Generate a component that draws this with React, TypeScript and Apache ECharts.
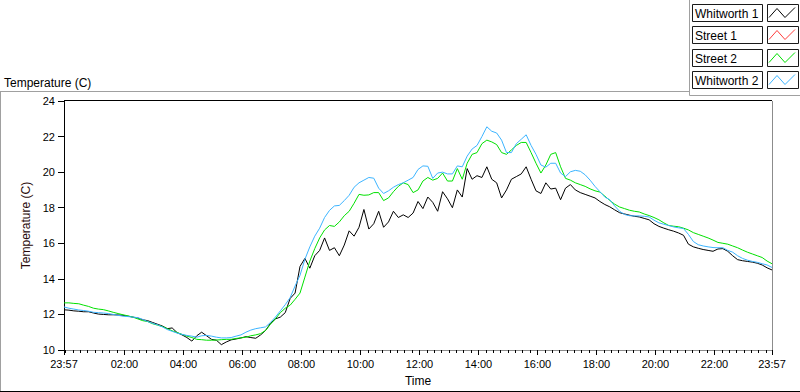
import React, { useEffect, useRef } from "react";
import * as echarts from "echarts";

// ---- data -------------------------------------------------------------
const SERIES_NAMES = ["Whitworth 1", "Street 1", "Street 2", "Whitworth 2"];
const SERIES_COLORS = ["#000000", "#ff3c3c", "#00e000", "#3cb4ff"];

const START_CLOCK_MIN = 23 * 60 + 57; // chart starts at 23:57
const SAMPLE_STEP_MIN = 10; // readings every 10 minutes
const SPAN_MIN = 1440;

const TICK_LABELS = [
  "23:57", "02:00", "04:00", "06:00", "08:00", "10:00", "12:00",
  "14:00", "16:00", "18:00", "20:00", "22:00", "23:57",
];
const Y_MIN = 10;
const Y_MAX = 24;
const Y_STEP = 2;

const whitworth1 = [
  12.26, 12.24, 12.2, 12.18, 12.15, 12.15, 12.08, 12.02, 12.0, 11.98,
  11.98, 11.97, 11.95, 11.9, 11.85, 11.8, 11.7, 11.65, 11.55, 11.45,
  11.35, 11.2, 11.24, 10.98, 10.85, 10.7, 10.5, 10.8, 11.0, 10.8,
  10.6, 10.55, 10.3, 10.45, 10.57, 10.62, 10.68, 10.75, 10.7, 10.66,
  10.85, 11.1, 11.5, 11.75, 11.85, 12.1, 12.9, 13.2, 14.7, 15.15,
  14.6, 15.3, 15.6, 16.3, 15.6, 15.75, 15.3, 15.9, 16.7, 16.4,
  16.9, 17.9, 16.8, 17.1, 17.8, 16.9, 17.2, 17.8, 17.45, 17.6,
  17.45, 17.7, 18.35, 17.95, 18.6, 18.3, 17.8, 18.9, 18.5, 18.0,
  19.0, 18.6, 20.2, 19.6, 19.8, 19.7, 20.3, 19.6, 19.4, 18.55,
  19.0, 19.6, 19.75, 19.9, 20.3, 19.6, 18.95, 18.8, 19.4, 19.05,
  19.1, 18.45, 19.1, 19.3, 19.0, 18.85, 18.75, 18.65, 18.55, 18.35,
  18.18, 18.05, 17.88, 17.72, 17.65, 17.58, 17.52, 17.48, 17.4, 17.32,
  17.1, 16.95, 16.85, 16.76, 16.68, 16.58, 16.45, 15.95, 15.8, 15.72,
  15.65, 15.6, 15.55, 15.68, 15.7, 15.55, 15.3, 15.08, 15.02, 14.98,
  14.94, 14.88, 14.78, 14.62, 14.5,
];

const street1: number[] = [];

const street2 = [
  12.65, 12.65, 12.62, 12.6, 12.52, 12.45, 12.35, 12.3, 12.27, 12.2,
  12.12, 12.05, 11.98, 11.92, 11.85, 11.75, 11.65, 11.6, 11.48, 11.4,
  11.32, 11.2, 11.08, 10.98, 10.88, 10.78, 10.7, 10.6, 10.58, 10.55,
  10.55, 10.56, 10.58, 10.6, 10.6, 10.65, 10.68, 10.72, 10.8, 10.85,
  10.92, 11.1, 11.45, 11.75, 12.1, 12.35, 12.52, 12.85, 13.2, 14.1,
  15.0, 15.7, 16.3, 16.75, 17.0, 16.95, 17.2, 17.55, 17.8, 18.25,
  18.75, 18.7, 18.72, 18.85, 18.85, 18.4, 18.55, 18.9, 19.2, 19.4,
  19.3, 18.85, 19.0, 19.5, 19.7, 19.55, 19.65, 19.95, 19.5, 19.5,
  20.2, 19.6, 20.5, 21.0, 21.1, 21.6, 21.8, 21.7, 21.55, 21.1,
  21.0, 21.25, 21.5, 21.67, 21.67, 21.1, 20.5, 19.95, 20.4, 21.0,
  21.1, 20.3, 19.65, 19.55, 19.4, 19.3, 19.2, 19.06, 18.95, 18.88,
  18.65, 18.41, 18.2, 18.04, 17.95, 17.86, 17.8, 17.76, 17.65, 17.56,
  17.45, 17.32, 17.15, 17.0, 16.96, 16.93, 16.85, 16.75, 16.6, 16.5,
  16.4, 16.3, 16.18, 16.05, 16.0, 15.95, 15.85, 15.75, 15.62, 15.5,
  15.4, 15.3, 15.2, 15.0, 14.85,
];

const whitworth2 = [
  12.42, 12.35, 12.3, 12.25, 12.22, 12.18, 12.12, 12.1, 12.08, 12.05,
  12.0, 11.95, 11.9, 11.88, 11.85, 11.82, 11.72, 11.6, 11.5, 11.42,
  11.3, 11.15, 11.05, 10.95, 10.88, 10.82, 10.78, 10.72, 10.8, 10.82,
  10.78, 10.72, 10.68, 10.68, 10.7, 10.78, 10.85, 11.0, 11.12, 11.2,
  11.25, 11.3, 11.55, 11.85, 12.2, 12.55, 12.95, 13.6, 14.2, 15.1,
  15.8, 16.4, 16.85, 17.45, 17.85, 18.1, 18.13, 18.4, 18.7, 19.15,
  19.4, 19.55, 19.7, 19.66, 19.1, 18.8, 18.95, 19.15, 19.3, 19.4,
  19.55, 19.7, 20.15, 20.35, 20.33, 19.65, 19.95, 20.0, 19.9, 19.9,
  20.35, 20.3, 20.9, 21.3, 21.5, 22.0, 22.55, 22.3, 22.2, 21.8,
  21.1, 21.1, 21.6, 21.85, 22.1, 21.5, 21.0, 20.4, 20.28, 20.5,
  20.5, 19.95, 19.75, 20.02, 20.1, 20.05, 19.85, 19.55, 19.2, 18.9,
  18.6, 18.45, 18.1, 17.8, 17.62, 17.55, 17.54, 17.54, 17.52, 17.48,
  17.3, 17.15, 17.07, 17.0, 16.92, 16.87, 16.83, 16.5, 16.1, 15.92,
  15.85, 15.8, 15.76, 15.75, 15.75, 15.6, 15.5, 15.3, 15.15, 15.05,
  14.98, 14.93, 14.85, 14.78, 14.64,
];

const SERIES_VALUES = [whitworth1, street1, street2, whitworth2];

// ---- helpers ------------------------------------------------------------
const FONT = '"Liberation Sans", Arial, sans-serif';

function labelToOffset(label: string, idx: number): number {
  if (idx === TICK_LABELS.length - 1) return SPAN_MIN;
  const [h, m] = label.split(":").map(Number);
  return (h * 60 + m - START_CLOCK_MIN + SPAN_MIN) % SPAN_MIN;
}
const MAJOR_TICKS = TICK_LABELS.map((l, i) => labelToOffset(l, i));
const MINOR_TICKS: number[] = [];
for (let t = (SPAN_MIN - START_CLOCK_MIN) % 15; t <= SPAN_MIN; t += 15) MINOR_TICKS.push(t);

function fmtOffset(v: number): string {
  const idx = MAJOR_TICKS.indexOf(Math.round(v));
  if (idx >= 0) return TICK_LABELS[idx];
  const total = (START_CLOCK_MIN + Math.round(v)) % SPAN_MIN;
  const h = Math.floor(total / 60);
  const m = total % 60;
  return `${String(h).padStart(2, "0")}:${String(m).padStart(2, "0")}`;
}

function toPairs(values: number[]): [number, number][] {
  return values.map((v, i) => [i * SAMPLE_STEP_MIN, v]);
}

// ---- legend graphic -----------------------------------------------------
function legendGraphic(): any[] {
  const els: any[] = [];
  // panel edges
  els.push({ type: "line", silent: true, shape: { x1: 689.5, y1: 0, x2: 689.5, y2: 95.5 }, style: { stroke: "#a0a0a0", lineWidth: 1 } });
  els.push({ type: "line", silent: true, shape: { x1: 689.5, y1: 95.5, x2: 800, y2: 95.5 }, style: { stroke: "#a0a0a0", lineWidth: 1 } });
  SERIES_NAMES.forEach((name, i) => {
    const top = 4.5 + Math.round(i * 22.3);
    els.push({
      type: "rect", silent: true,
      shape: { x: 692.5, y: top, width: 70, height: 17 },
      style: { fill: "#ffffff", stroke: "#1a1a1a", lineWidth: 1 },
    });
    els.push({
      type: "text", silent: true, x: 695, y: top + 9,
      style: { text: name, fontSize: 12, fontFamily: FONT, fill: "#000", verticalAlign: "middle", align: "left" },
    });
    els.push({
      type: "rect", silent: true,
      shape: { x: 767.5, y: top, width: 31, height: 17 },
      style: { fill: "#ffffff", stroke: "#1a1a1a", lineWidth: 1 },
    });
    els.push({
      type: "polyline", silent: true,
      shape: { points: [[769, top + 13], [777, top + 4], [785, top + 13], [795, top + 3]] },
      style: { stroke: SERIES_COLORS[i], lineWidth: 1, fill: "none" },
    });
  });
  return els;
}

// ---- component ----------------------------------------------------------
export default function App() {
  const ref = useRef<HTMLDivElement>(null);

  useEffect(() => {
    if (!ref.current) return;
    const chart = echarts.init(ref.current, null, { renderer: "svg" });

    const gridLeft = 64;
    const gridTop = 101;
    const gridWidth = 708;
    const gridHeight = 251;

    const option: any = {
      animation: false,
      backgroundColor: "#ffffff",
      textStyle: { fontFamily: FONT },
      grid: { left: gridLeft, top: gridTop, width: gridWidth, height: gridHeight, show: false, containLabel: false },
      xAxis: [
        {
          type: "value", min: 0, max: SPAN_MIN, position: "bottom",
          name: "Time", nameLocation: "middle", nameGap: 25,
          nameTextStyle: { fontSize: 12, color: "#000", fontFamily: FONT },
          axisLine: { show: true, lineStyle: { color: "#8c8c8c", width: 1 } },
          axisTick: { show: true, customValues: MAJOR_TICKS, length: 5, lineStyle: { color: "#000" } },
          axisLabel: { show: true, customValues: MAJOR_TICKS, formatter: fmtOffset, margin: 8, fontSize: 11, color: "#000", fontFamily: FONT },
          splitLine: { show: false },
        },
        {
          type: "value", min: 0, max: SPAN_MIN, position: "bottom",
          axisLine: { show: false },
          axisTick: { show: true, customValues: MINOR_TICKS, length: 3, lineStyle: { color: "#000" } },
          axisLabel: { show: false },
          splitLine: { show: false },
        },
      ],
      yAxis: {
        type: "value", min: Y_MIN, max: Y_MAX, interval: Y_STEP,
        name: "Temperature (C)", nameLocation: "middle", nameGap: 25, nameRotate: 90,
        nameTextStyle: { fontSize: 12, color: "#2a0a0a", fontFamily: FONT },
        axisLine: { show: true, lineStyle: { color: "#000", width: 1 } },
        axisTick: { show: true, length: 6, lineStyle: { color: "#000" } },
        axisLabel: { margin: 9, fontSize: 11, color: "#000", fontFamily: FONT },
        splitLine: { show: false },
      },
      series: SERIES_NAMES.map((name, i) => ({
        name, type: "line", xAxisIndex: 0, yAxisIndex: 0,
        data: toPairs(SERIES_VALUES[i]),
        showSymbol: false, symbol: "none", smooth: false,
        lineStyle: { color: SERIES_COLORS[i], width: 1 },
        itemStyle: { color: SERIES_COLORS[i] },
        z: 2 + i,
      })),
      graphic: [
        // outer frame
        { type: "line", silent: true, shape: { x1: 0, y1: 91.5, x2: 689.5, y2: 91.5 }, style: { stroke: "#a0a0a0", lineWidth: 1 } },
        { type: "line", silent: true, shape: { x1: 0.5, y1: 91.5, x2: 0.5, y2: 392 }, style: { stroke: "#a0a0a0", lineWidth: 1 } },
        { type: "line", silent: true, shape: { x1: 0, y1: 391.5, x2: 800, y2: 391.5 }, style: { stroke: "#000", lineWidth: 1 } },
        // plot border: top black, right grey
        { type: "line", silent: true, shape: { x1: gridLeft, y1: gridTop - 0.5, x2: gridLeft + gridWidth, y2: gridTop - 0.5 }, style: { stroke: "#000", lineWidth: 1 } },
        { type: "line", silent: true, shape: { x1: gridLeft + gridWidth + 0.5, y1: gridTop, x2: gridLeft + gridWidth + 0.5, y2: gridTop + gridHeight }, style: { stroke: "#8c8c8c", lineWidth: 1 } },
        // chart caption
        { type: "text", silent: true, x: 4, y: 82.5, style: { text: "Temperature (C)", fontSize: 12, fontFamily: FONT, fill: "#000", verticalAlign: "middle", align: "left" } },
        ...legendGraphic(),
      ],
    };

    chart.setOption(option);
    return () => chart.dispose();
  }, []);

  return (
    <div
      ref={ref}
      style={{ position: "absolute", left: 0, top: 0, width: 800, height: 392, background: "#fff" }}
    />
  );
}
